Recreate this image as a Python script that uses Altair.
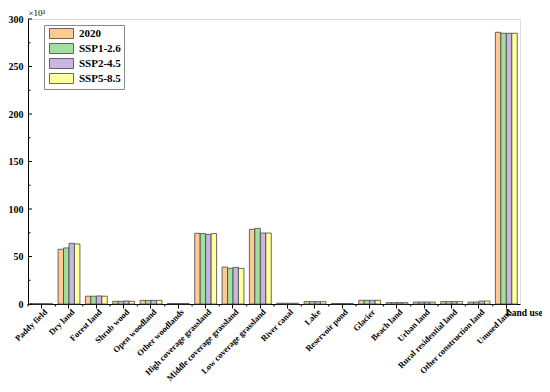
import altair as alt
import pandas as pd

categories = ["Paddy field", "Dry land", "Forest land", "Shrub wood", "Open woodland",
              "Other woodlands", "High coverage grassland", "Middle coverage grassland",
              "Low coverage grassland", "River canal", "Lake", "Reservoir pond", "Glacier",
              "Beach land", "Urban land", "Rural residential land",
              "Other construction land", "Unused land"]
scenarios = ["2020", "SSP1-2.6", "SSP2-4.5", "SSP5-8.5"]
v2020 = [0.3, 57.6, 8.2, 2.8, 3.8, 0.5, 74.4, 38.9, 78.6, 0.8, 2.5, 0.5, 3.9, 1.4, 2.1, 2.5, 2.0, 286.0]
vssp1 = [0.3, 59.0, 8.2, 2.8, 3.8, 0.5, 74.1, 37.6, 79.6, 0.8, 2.5, 0.5, 3.9, 1.4, 2.1, 2.5, 2.1, 285.0]
vssp2 = [0.3, 63.9, 8.5, 3.2, 3.8, 0.5, 73.2, 38.6, 74.7, 0.8, 2.5, 0.5, 3.9, 1.4, 2.1, 2.5, 3.1, 285.0]
vssp5 = [0.3, 63.2, 8.2, 2.8, 3.8, 0.5, 74.1, 37.5, 74.7, 0.8, 2.5, 0.5, 3.9, 1.4, 2.1, 2.5, 3.1, 285.0]
colors = ["#FFC994", "#9FE09F", "#C8B6E0", "#FFFF9C"]
y_major = [0, 50, 100, 150, 200, 250, 300]
y_minor = [25, 75, 125, 175, 225, 275]

rows = []
for s, vals in zip(scenarios, [v2020, vssp1, vssp2, vssp5]):
    for c, v in zip(categories, vals):
        rows.append({"cat": c, "scen": s, "value": v})
df = pd.DataFrame(rows)

FONT = "Liberation Serif"
yscale = alt.Scale(domain=[0, 300], nice=False, zero=True)
xscale = alt.Scale(paddingInner=0.2, paddingOuter=0.1)

xaxis = alt.Axis(title="Land use", labelAngle=315, labelAlign="right",
                 labelBaseline="middle", labelFont=FONT, labelFontWeight="bold",
                 labelFontSize=8.5, labelColor="black", labelPadding=2, labelOffset=4,
                 tickSize=4, tickColor="black", domainColor="black",
                 titleFont=FONT, titleFontWeight="bold", titleFontSize=9.5,
                 titleAngle=0, titleAlign="left", titleBaseline="middle",
                 titleX=477, titleY=8, titleColor="black")
yaxis = alt.Axis(title="×10³", values=y_major, ticks=False, grid=False,
                 labelFont=FONT, labelFontWeight="bold", labelFontSize=10,
                 labelColor="black", labelPadding=5, domainColor="black",
                 titleFont=FONT, titleFontWeight="normal", titleFontSize=9,
                 titleAngle=0, titleAlign="left", titleBaseline="alphabetic",
                 titleX=0, titleY=-4, titleColor="black")

bars = alt.Chart(df).mark_bar(stroke="#444444", strokeWidth=0.8).encode(
    x=alt.X("cat:N", sort=categories, scale=xscale, axis=xaxis),
    xOffset=alt.XOffset("scen:N", sort=scenarios, scale=alt.Scale(paddingInner=0, paddingOuter=0)),
    y=alt.Y("value:Q", scale=yscale, axis=yaxis),
    color=alt.Color("scen:N", sort=scenarios,
                    scale=alt.Scale(domain=scenarios, range=colors),
                    legend=alt.Legend(title=None, orient="none", legendX=16, legendY=6,
                                      symbolType="M-1,-1.67 H7 V1.67 H-1 Z", symbolSize=36,
                                      symbolStrokeColor="#444444", symbolStrokeWidth=0.8,
                                      labelFont=FONT, labelFontWeight="bold", labelFontSize=11,
                                      labelColor="black", labelOffset=21, rowPadding=0,
                                      padding=3, strokeColor="#888888", fillColor="white")),
)

ymaj = alt.Chart(pd.DataFrame({"value": y_major})).mark_rule(color="black").encode(
    y=alt.Y("value:Q", scale=yscale), x=alt.value(0), x2=alt.value(4))
ymin = alt.Chart(pd.DataFrame({"value": y_minor})).mark_rule(color="black").encode(
    y=alt.Y("value:Q", scale=yscale), x=alt.value(0), x2=alt.value(2.5))
xmin = alt.Chart(pd.DataFrame({"cat": categories})).mark_rule(color="black", xOffset=-2.7).encode(
    x=alt.X("cat:N", sort=categories, bandPosition=0), y=alt.value(285), y2=alt.value(287.5))

chart = alt.layer(bars, ymaj, ymin, xmin).properties(
    width=492, height=285, autosize="none",
    padding={"left": 20, "top": 11, "right": 22, "bottom": 80},
).configure_view(stroke="black", strokeWidth=1).configure(background="white")

chart.save("out.html", embed_options={"renderer": "svg", "actions": False})
